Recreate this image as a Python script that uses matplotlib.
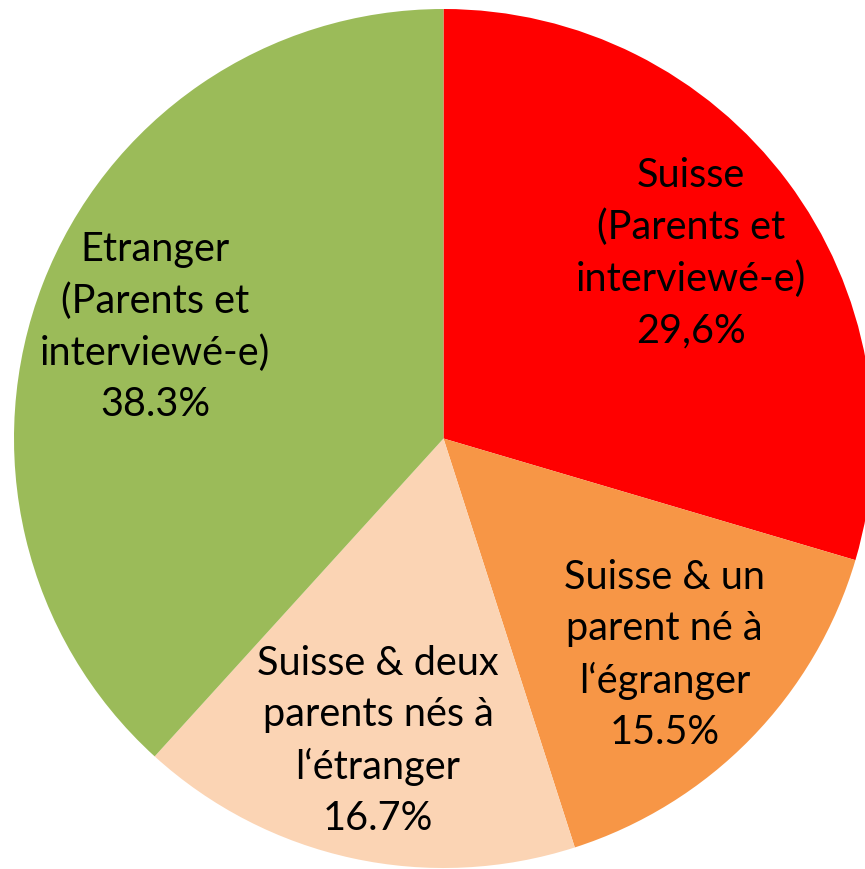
import matplotlib.pyplot as plt

categories = [
    "Suisse\n(Parents et\ninterviewé-e)\n29,6%",
    "Suisse & un\nparent né à\nl‘égranger\n15.5%",
    "Suisse & deux\nparents nés à\nl‘étranger\n16.7%",
    "Etranger\n(Parents et\ninterviewé-e)\n38.3%",
]
shares = [29.6, 15.5, 16.7, 38.3]
colors = ["#FF0000", "#F79646", "#FBD4B4", "#9BBB59"]

fig = plt.figure(figsize=(8.65, 8.69), dpi=100)
# pie centre at about (443, 438) px, radius about 430 px
ax = fig.add_axes([14 / 865, 1 / 869, 859 / 865, 859 / 869])
wedges, texts = ax.pie(
    shares,
    labels=categories,
    colors=colors,
    startangle=90,
    counterclock=False,
    labeldistance=0.72,
    radius=1.0,
    wedgeprops={"linewidth": 0},
    textprops={"fontsize": 28.5, "fontfamily": "Lato", "color": "black"},
)
for t in texts:
    t.set_horizontalalignment("center")
    t.set_verticalalignment("center")
    t.set_multialignment("center")
    t.set_linespacing(1.47)

ax.set_xlim(-1, 1)
ax.set_ylim(-1, 1)
ax.set_aspect("equal")
ax.axis("off")
fig.savefig("out.png", dpi=100)
